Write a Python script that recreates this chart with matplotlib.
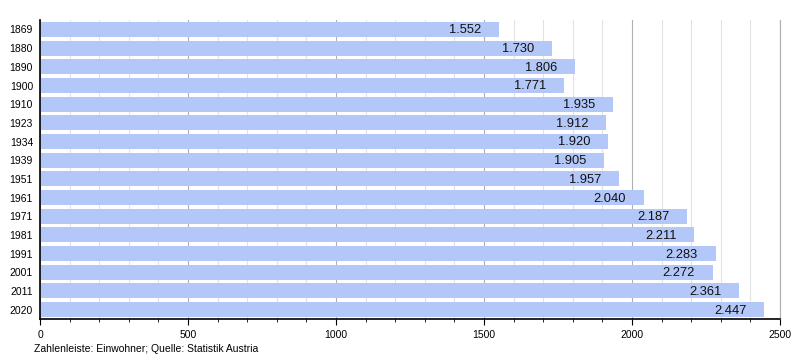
import matplotlib
matplotlib.use("Agg")
import matplotlib.pyplot as plt
import numpy as np

plt.rcParams['font.family'] = ['Liberation Sans', 'DejaVu Sans']

#Data
years = ["1869", "1880", "1890", "1900", "1910", "1923", "1934", "1939",
         "1951", "1961", "1971", "1981", "1991", "2001", "2011", "2020"]
population = [1552, 1730, 1806, 1771, 1935, 1912, 1920, 1905,
              1957, 2040, 2187, 2211, 2283, 2272, 2361, 2447]
value_labels = ["1.552", "1.730", "1.806", "1.771", "1.935", "1.912", "1.920", "1.905",
                "1.957", "2.040", "2.187", "2.211", "2.283", "2.272", "2.361", "2.447"]

fig = plt.figure(figsize=(8, 3.6), dpi=100)
ax = fig.add_axes([0.05, 0.114, 0.925, 0.83])

pos = np.arange(len(years))
ax.barh(pos, population, height=0.8, color="#b3c8f8", zorder=2)
#value labels sit inside the bar end
for p, v, lab in zip(pos, population, value_labels):
    ax.text(v - 60, p + 0.05, lab, ha="right", va="center", fontsize=9.3,
            color="#111111", zorder=3)

ax.set_xlim(0, 2500)
ax.set_ylim(len(years) - 0.5, -0.5)
ax.set_yticks(pos)
ax.set_yticklabels(years, fontsize=7.5)
ax.tick_params(axis="y", length=0, pad=5)

ax.set_xticks([0, 500, 1000, 1500, 2000, 2500])
ax.set_xticks(np.arange(0, 2501, 100), minor=True)
ax.tick_params(axis="x", which="major", length=4, labelsize=7.5, pad=4)
ax.tick_params(axis="x", which="minor", length=2)
ax.grid(axis="x", which="major", color="#b0b0b0", linewidth=0.8, zorder=0)
ax.grid(axis="x", which="minor", color="#e2e2e2", linewidth=0.8, zorder=0)

ax.spines["top"].set_visible(False)
ax.spines["right"].set_color("#b0b0b0")
ax.spines["left"].set_linewidth(1.2)
ax.spines["bottom"].set_linewidth(1.2)

fig.text(0.043, 0.022, "Zahlenleiste: Einwohner; Quelle: Statistik Austria", fontsize=7.5)

plt.savefig("out.png", dpi=100)
